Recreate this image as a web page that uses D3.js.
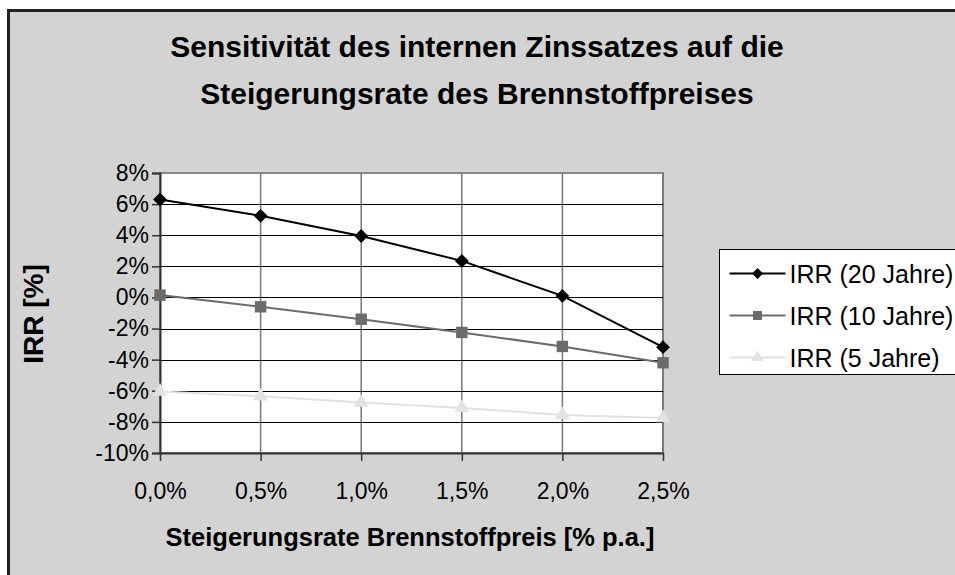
<!DOCTYPE html>
<html>
<head>
<meta charset="utf-8">
<script src="https://cdn.jsdelivr.net/npm/d3@7"></script>
<style>
  body { margin: 0; background: #fff; }
  text { font-family: "Liberation Sans", Arial, sans-serif; fill: #000; }
</style>
</head>
<body>
<div id="chart"></div>
<script>
const CATEGORIES = ["0,0%", "0,5%", "1,0%", "1,5%", "2,0%", "2,5%"]
const IRR_20 = [6.3, 5.25, 3.95, 2.35, 0.1, -3.2]
const IRR_10 = [0.15, -0.6, -1.4, -2.25, -3.15, -4.2]
const IRR_5 = [-6.05, -6.35, -6.75, -7.1, -7.55, -7.75]
const Y_TICKS = [8, 6, 4, 2, 0, -2, -4, -6, -8, -10]

// diamond = square turned by 45 degrees
const SERIES = [
    { name: "IRR (20 Jahre)", values: IRR_20, color: "#000000", shape: d3.symbolSquare, rot: 45, size: 95, legSize: 60 },
    { name: "IRR (10 Jahre)", values: IRR_10, color: "#6b6b6b", shape: d3.symbolSquare, rot: 0, size: 130, legSize: 80 },
    { name: "IRR (5 Jahre)", values: IRR_5, color: "#e2e2e2", shape: d3.symbolTriangle, rot: 0, size: 95, legSize: 65 }
]

const W = 955, H = 575
const PLOT = { LEFT: 160, RIGHT: 663, TOP: 173, BOTTOM: 453 }

const svg = d3.select("#chart").append("svg")
    .attr("width", W)
    .attr("height", H)

// chart area frame
svg.append("rect")
    .attr("x", 8.5).attr("y", 10.5)
    .attr("width", W + 10).attr("height", H + 10)
    .attr("fill", "#d3d3d3")
    .attr("stroke", "#222")
    .attr("stroke-width", 3)

// title
svg.append("text")
    .attr("text-anchor", "middle")
    .style("font-size", "30px")
    .style("font-weight", "bold")
    .selectAll("tspan")
    .data(["Sensitivität des internen Zinssatzes auf die", "Steigerungsrate des Brennstoffpreises"])
    .enter().append("tspan")
        .attr("x", 477)
        .attr("y", (d, i) => 57 + i * 47)
        .text(d => d)

const x = d3.scalePoint()
    .domain(CATEGORIES)
    .range([PLOT.LEFT, PLOT.RIGHT])

const y = d3.scaleLinear()
    .domain([-10, 8])
    .range([PLOT.BOTTOM, PLOT.TOP])

const g = svg.append("g")

g.append("rect")
    .attr("x", PLOT.LEFT).attr("y", PLOT.TOP)
    .attr("width", PLOT.RIGHT - PLOT.LEFT)
    .attr("height", PLOT.BOTTOM - PLOT.TOP)
    .attr("fill", "#fff")
    .attr("stroke", "#888")
    .attr("stroke-width", 2)

// vertical gridlines
g.selectAll(".vgrid")
    .data(CATEGORIES.slice(1))
    .enter().append("line")
    .attr("x1", d => x(d)).attr("x2", d => x(d))
    .attr("y1", PLOT.TOP).attr("y2", PLOT.BOTTOM)
    .attr("stroke", "#777")
    .attr("stroke-width", 1.5)

// horizontal gridlines
g.selectAll(".hgrid")
    .data(Y_TICKS.slice(1, -1))
    .enter().append("line")
    .attr("x1", PLOT.LEFT).attr("x2", PLOT.RIGHT)
    .attr("y1", d => Math.round(y(d)) + 0.5).attr("y2", d => Math.round(y(d)) + 0.5)
    .attr("stroke", "#000")
    .attr("stroke-width", 1)

// y axis
const yAxis = g.append("g")
    .attr("transform", `translate(${PLOT.LEFT},0)`)
    .call(d3.axisLeft(y).tickValues(Y_TICKS).tickSize(8).tickPadding(3)
        .tickFormat(d => d + "%"))
yAxis.select(".domain").attr("stroke", "#333").attr("stroke-width", 2)
yAxis.selectAll(".tick line").attr("stroke", "#333").attr("stroke-width", 1.5)
yAxis.selectAll("text").style("font-size", "23px").attr("fill", "#000")

// x axis
const xAxis = g.append("g")
    .attr("transform", `translate(0,${PLOT.BOTTOM})`)
    .call(d3.axisBottom(x).tickSize(8).tickPadding(22).tickSizeOuter(0))
xAxis.select(".domain").attr("stroke", "#333").attr("stroke-width", 2)
xAxis.selectAll(".tick line").attr("stroke", "#333").attr("stroke-width", 1.5)
xAxis.selectAll("text").style("font-size", "23px").attr("fill", "#000")

// axis titles
svg.append("text")
    .attr("x", 410).attr("y", 546)
    .attr("text-anchor", "middle")
    .style("font-size", "25.5px")
    .style("font-weight", "bold")
    .text("Steigerungsrate Brennstoffpreis [% p.a.]")

svg.append("text")
    .attr("transform", "translate(43,314) rotate(-90)")
    .attr("text-anchor", "middle")
    .style("font-size", "28px")
    .style("font-weight", "bold")
    .text("IRR [%]")

// series
const line = d3.line()
    .x((d, i) => x(CATEGORIES[i]))
    .y(d => y(d))

SERIES.slice().reverse().forEach(s => {
    g.append("path")
        .datum(s.values)
        .attr("d", line)
        .attr("fill", "none")
        .attr("stroke", s.color)
        .attr("stroke-width", 2)

    g.selectAll(null)
        .data(s.values)
        .enter().append("path")
        .attr("transform", (d, i) => `translate(${x(CATEGORIES[i])},${y(d)}) rotate(${s.rot})`)
        .attr("d", d3.symbol().type(s.shape).size(s.size)())
        .attr("fill", s.color)
})

// legend
const legend = svg.append("g")
    .attr("transform", "translate(719.5,249.5)")

legend.append("rect")
    .attr("width", 260).attr("height", 125)
    .attr("fill", "#fff")
    .attr("stroke", "#000")
    .attr("stroke-width", 1)

const items = legend.selectAll(".leg")
    .data(SERIES)
    .enter().append("g")
    .attr("transform", (d, i) => `translate(0,${24 + i * 42})`)

items.append("line")
    .attr("x1", 10).attr("x2", 66)
    .attr("stroke", d => d.color)
    .attr("stroke-width", 2)

items.append("path")
    .attr("transform", d => `translate(38,0) rotate(${d.rot})`)
    .attr("d", d => d3.symbol().type(d.shape).size(d.legSize)())
    .attr("fill", d => d.color)

items.append("text")
    .attr("x", 70).attr("y", 9)
    .style("font-size", "25px")
    .text(d => d.name)
</script>
</body>
</html>
